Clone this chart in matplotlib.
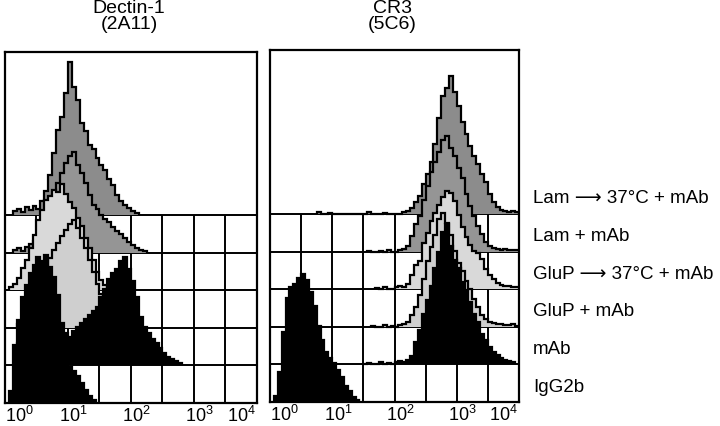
import numpy as np
import matplotlib
matplotlib.use("Agg")
import matplotlib.pyplot as plt
from matplotlib.transforms import blended_transform_factory

plt.rcParams['font.family'] = ['Liberation Sans', 'DejaVu Sans']
plt.rcParams['mathtext.fontset'] = 'custom'
plt.rcParams['mathtext.rm'] = 'Liberation Sans'

# ---------------- data ----------------
panel_titles = [("Dectin-1", "(2A11)"), ("CR3", "(5C6)")]
row_labels = ["IgG2b", "mAb", "GluP + mAb", "GluP \u27f6 37\u00b0C + mAb",
              "Lam + mAb", "Lam \u27f6 37\u00b0C + mAb"]
tick_decades = [0, 1, 2, 3, 4]
bin_width = 1 / 16          # log10 units per channel bin
row_step = 37.6             # vertical offset between stacked histograms (counts)

# Dectin-1 panel: start bin index and counts per bin (bottom row first)
p1_igg2b_start = 1
p1_igg2b = [12, 38, 60, 78, 88, 92, 90, 86, 80, 72, 64, 56, 50, 44, 40, 36, 32, 27,
            20, 13, 7, 3]
p1_mab_start = 2
p1_mab = [20, 45, 68, 80, 92, 100, 108, 104, 110, 98, 88, 70, 42, 32, 28, 34, 38, 42,
          46, 50, 54, 58, 68, 76, 86, 92, 96, 104, 108, 96, 84, 68, 48, 38, 32, 26,
          22, 17, 12, 8, 6, 4, 2]
p1_glup_start = 3
p1_glup = [4, 8, 14, 22, 32, 44, 55, 62, 70, 78, 85, 92, 98, 104, 108, 100, 90, 80,
           68, 56, 44, 34, 22, 12, 6, 3]
p1_glup37_start = 1
p1_glup37 = [3, 6, 12, 22, 30, 42, 55, 70, 80, 90, 94, 100, 98, 106, 96, 88, 82, 72,
             64, 52, 42, 30, 18, 10, 5, 2]
p1_lam_start = 2
p1_lam = [3, 5, 2, 6, 9, 12, 18, 26, 34, 45, 58, 70, 80, 90, 97, 101, 88, 80, 70, 58,
          48, 44, 38, 34, 31, 26, 22, 19, 15, 11, 8, 5, 3, 2]
p1_lam37_start = 2
p1_lam37 = [4, 6, 3, 8, 5, 9, 6, 14, 24, 40, 62, 85, 98, 122, 153, 128, 115, 92, 84,
            70, 66, 57, 50, 45, 36, 30, 20, 14, 10, 7, 4, 2]

# CR3 panel
p2_igg2b_start = 1
p2_igg2b = [6, 30, 70, 104, 115, 118, 124, 128, 122, 110, 96, 76, 62, 50, 44, 39, 32,
            25, 16, 11, 5, 2]
p2_mab_start = 24
p2_mab = [0, 1, 0, 0, 2, 0, 1, 0, 2, 3, 2, 4, 8, 22, 34, 50, 64, 78, 96, 112, 132,
          140, 118, 104, 96, 82, 74, 62, 50, 42, 30, 24, 17, 12, 9, 6, 4, 3, 2]
p2_glup_start = 26
p2_glup = [1, 0, 0, 2, 0, 1, 0, 2, 3, 5, 12, 20, 32, 48, 66, 80, 92, 108, 114, 104,
           92, 76, 64, 56, 46, 38, 28, 20, 12, 8, 5, 4, 3, 3, 2, 2, 3, 1]
p2_glup37_start = 27
p2_glup37 = [1, 0, 2, 0, 0, 2, 3, 2, 5, 14, 24, 28, 46, 56, 68, 76, 84, 92, 98, 96,
             88, 74, 62, 52, 44, 38, 36, 30, 20, 14, 10, 6, 4, 3, 3, 2, 2]
p2_lam_start = 25
p2_lam = [1, 0, 0, 1, 0, 2, 0, 0, 2, 3, 6, 16, 28, 36, 52, 66, 80, 90, 100, 112, 116,
          104, 96, 84, 74, 58, 46, 36, 26, 18, 10, 6, 4, 3, 2, 3, 2, 2, 2]
p2_lam37_start = 12
p2_lam37 = [2, 0, 0, 1, 0, 0, 0, 0, 0, 0, 0, 0, 0, 2, 0, 0, 0, 1, 0, 0, 0, 0, 2, 3,
            6, 12, 18, 30, 40, 52, 70, 96, 118, 126, 138, 122, 108, 92, 80, 68, 58,
            50, 40, 32, 20, 12, 7, 4, 3, 2, 3, 2]

panels = [
    [(p1_igg2b_start, p1_igg2b), (p1_mab_start, p1_mab), (p1_glup_start, p1_glup),
     (p1_glup37_start, p1_glup37), (p1_lam_start, p1_lam), (p1_lam37_start, p1_lam37)],
    [(p2_igg2b_start, p2_igg2b), (p2_mab_start, p2_mab), (p2_glup_start, p2_glup),
     (p2_glup37_start, p2_glup37), (p2_lam_start, p2_lam), (p2_lam37_start, p2_lam37)],
]
row_colors = ["black", "black", "#cfcfcf", "#d9d9d9", "#959595", "#8c8c8c"]

# ---------------- figure ----------------
W, H = 720, 426
fig = plt.figure(figsize=(W / 100, H / 100), dpi=100)

axes_px = [(5, 52, 257, 403), (270, 50, 519, 402)]  # left, top, right, bottom
axes = []
for (l, t, r, b) in axes_px:
    ax = fig.add_axes([l / W, 1 - b / H, (r - l) / W, (b - t) / H])
    ax.set_xlim(0, 4)
    ax.set_ylim(0, b - t)
    ax.set_xticks([])
    ax.set_yticks([])
    for s in ax.spines.values():
        s.set_linewidth(1.6)
        s.set_color('black')
    axes.append(ax)

for pi, (ax, series) in enumerate(zip(axes, panels)):
    nrows = len(series)
    grid_top = (nrows - 1) * row_step
    # grid (behind histograms)
    ax.hlines([k * row_step for k in range(1, nrows)], 0, 4, color='black',
              lw=1.4, zorder=1)
    ax.vlines(np.arange(0.5, 4.0, 0.5), 0, grid_top, color='black', lw=1.4, zorder=1)
    # histograms: back (top) rows first
    for k in range(nrows - 1, -1, -1):
        start, counts = series[k]
        counts = np.asarray(counts, dtype=float)
        edges = (start + np.arange(len(counts) + 1)) * bin_width
        base = k * row_step
        z = 2 + (nrows - 1 - k)
        ax.stairs(base + counts, edges, baseline=base, fill=True,
                  color=row_colors[k], zorder=z, lw=0)
        ax.stairs(base + counts, edges, baseline=base, fill=False,
                  color='black', lw=1.6, zorder=z + 0.5)

    # tick labels
    tr = ax.get_xaxis_transform()
    fs = 13
    ty = -0.036
    for d in tick_decades:
        lab = r'$\mathregular{10^{%d}}$' % d
        if d == 0:
            ax.text(0.0, ty, lab, transform=tr, ha='left', va='center', fontsize=fs)
        elif d == 4:
            ax.text(3.98, ty, lab, transform=tr, ha='right', va='center', fontsize=fs)
        else:
            ax.text(d + 0.09, ty, lab, transform=tr, ha='center', va='center',
                    fontsize=fs)

    # titles
    l, t, r, b = axes_px[pi]
    cx = ((l + r) / 2 - 2) / W
    fig.text(cx, 1 - 8.5 / H, panel_titles[pi][0], ha='center', va='center', fontsize=14)
    fig.text(cx, 1 - 24.5 / H, panel_titles[pi][1], ha='center', va='center', fontsize=14)

# row labels on the right
ax2 = axes[1]
btr = blended_transform_factory(fig.transFigure, ax2.transData)
for k, lab in enumerate(row_labels):
    ax2.text(533 / W, k * row_step + 15, lab, transform=btr, ha='left', va='center',
             fontsize=13.5, clip_on=False)

fig.savefig("out.png", dpi=100)
